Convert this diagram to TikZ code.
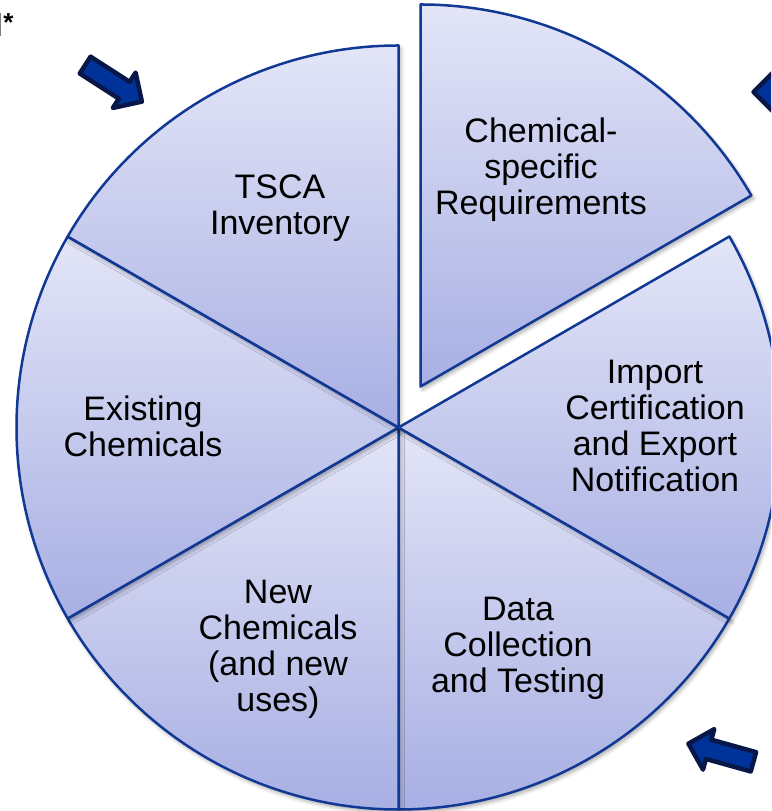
\documentclass[tikz,border=0pt]{standalone}
\usepackage{fontspec}
\setmainfont{Liberation Sans}
\usetikzlibrary{shadows.blur}
\definecolor{sectop}{RGB}{227,229,247}
\definecolor{secbot}{RGB}{168,175,227}
\definecolor{sectorline}{RGB}{16,56,148}
\definecolor{arrowfill}{RGB}{0,51,153}
\definecolor{arrowline}{RGB}{8,22,72}
\tikzset{
  sector/.style={draw=sectorline, line width=2.5pt, line join=round,
    top color=sectop, bottom color=secbot,
    blur shadow={shadow xshift=2pt, shadow yshift=-3pt, shadow blur steps=6,
      shadow blur radius=4pt, shadow opacity=35}},
  lbl/.style={align=center, inner sep=0pt, text=black,
    font=\fontsize{34}{36}\selectfont},
  blockarrow/.style={fill=arrowfill, draw=arrowline, line width=4.5pt, line join=round}
}
\newcommand{\blockarrowpath}{(-2.5,0) -- (-23.5,21) -- (-23.5,10) -- (-70,10) -- (-70,-10) -- (-23.5,-10) -- (-23.5,-21) -- cycle}
\begin{document}
\begin{tikzpicture}[x=1pt,y=1pt]
\useasboundingbox (0,0) rectangle (771,811);
\clip (0,0) rectangle (771,811);
\coordinate (C) at (398.5,383.5);
\coordinate (E) at (420.5,424.5);
\def\R{382}
% sectors
\path[sector] (C) -- ++(270:\R) arc[start angle=270, end angle=330, radius=\R] -- cycle;
\path[sector] (C) -- ++(210:\R) arc[start angle=210, end angle=270, radius=\R] -- cycle;
\path[sector] (C) -- ++(150:\R) arc[start angle=150, end angle=210, radius=\R] -- cycle;
\path[sector] (C) -- ++(90:\R) arc[start angle=90, end angle=150, radius=\R] -- cycle;
\path[sector] (C) -- ++(-30:\R) arc[start angle=-30, end angle=30, radius=\R] -- cycle;
\path[sector] (E) -- ++(30:\R) arc[start angle=30, end angle=90, radius=\R] -- cycle;
% labels
\node[lbl] (tsca) at (280,603) {TSCA\\Inventory};
\node[lbl] (chem) at (541,641) {Chemical-\\specific\\Requirements};
\node[lbl] (imp) at (655,385) {Import\\Certification\\and Export\\Notification};
\node[lbl] (data) at (518,162.5) {Data\\Collection\\and Testing};
\node[lbl] (new) at (278,161.5) {New\\Chemicals\\(and new\\uses)};
\node[lbl] (exist) at (143,384.5) {Existing\\Chemicals};
% block arrows
\path[blockarrow, shift={(144,708)}, rotate=-32.8] \blockarrowpath;
\path[blockarrow, shift={(751,719)}, rotate=180] \blockarrowpath;
\path[blockarrow, shift={(686,68)}, rotate=164.4] \blockarrowpath;
% corner mark
\draw[gray, line width=1pt] (0.5,798) -- (0.5,775);
\node[inner sep=0pt, font=\fontsize{26}{26}\selectfont\bfseries] (star) at (8.5,788) {*};
\end{tikzpicture}
\end{document}
